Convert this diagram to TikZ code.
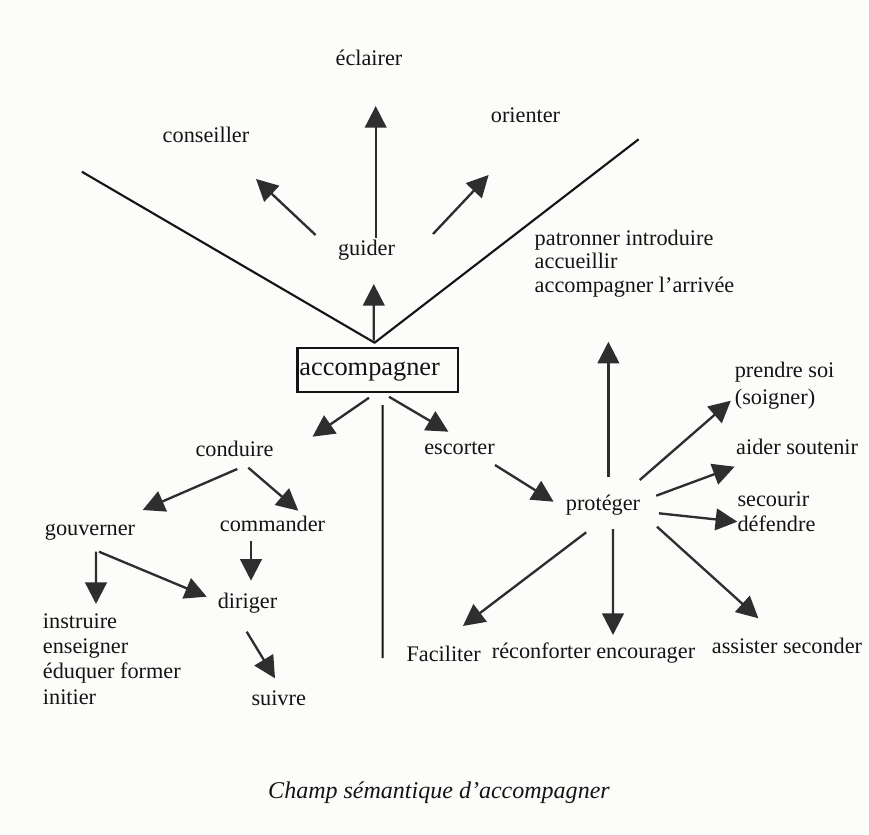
\documentclass[tikz,border=0pt]{standalone}
\usepackage{fontspec}
\setmainfont{Liberation Serif}
\usetikzlibrary{arrows.meta}
\definecolor{ink}{HTML}{141414}
\definecolor{arrowgray}{HTML}{2E2E2E}
\definecolor{paper}{HTML}{FCFCFA}
\begin{document}
\begin{tikzpicture}[x=0.03cm,y=-0.03cm,
  lbl/.style={anchor=base, inner sep=0pt, text=ink, font=\fontsize{19}{21}\selectfont},
  lblw/.style={lbl, anchor=base west},
  arr/.style={draw=arrowgray, line width=2pt, -{Triangle[length=18.5pt,width=18.5pt]}},
  vline/.style={draw=ink, line width=1.8pt, line join=round}]
\fill[paper] (0,0) rectangle (869,834);
\useasboundingbox (0,0) rectangle (869,834);

% labels
\node[lbl] (eclairer) at (369,65) {éclairer};
\node[lbl] (conseiller) at (206,142) {conseiller};
\node[lbl] (orienter) at (525.5,122) {orienter};
\node[lbl] (guider) at (366.5,255) {guider};
\node[lblw] (patron1) at (534.5,245) {patronner introduire};
\node[lblw] (patron2) at (534.5,268) {accueillir};
\node[lblw] (patron3) at (534.5,292) {accompagner l’arrivée};
\node[draw=ink, line width=1.8pt, text=ink, text width=4.695cm, inner xsep=0.06cm,
      text height=15pt, text depth=5pt,
      minimum height=1.32cm, align=left, font=\fontsize{22.5}{24}\selectfont] (acc) at (377.7,370) {accompagner};
\node[lbl] (conduire) at (234.5,456) {conduire};
\node[lbl] (escorter) at (459.5,454) {escorter};
\node[lbl] (gouverner) at (90,535) {gouverner};
\node[lbl] (commander) at (272.5,531.7) {commander};
\node[lbl] (diriger) at (247.5,608.3) {diriger};
\node[lbl] (suivre) at (278.7,705) {suivre};
\node[lblw] (instr1) at (42.7,628.3) {instruire};
\node[lblw] (instr2) at (42.7,653.3) {enseigner};
\node[lblw] (instr3) at (42.7,678.6) {éduquer former};
\node[lblw] (instr4) at (42.7,704.5) {initier};
\node[lbl] (proteger) at (603,510) {protéger};
\node[lblw] (prendre1) at (734.6,377.7) {prendre soi};
\node[lblw] (prendre2) at (734.6,404) {(soigner)};
\node[lblw] (aider) at (736,454) {aider soutenir};
\node[lblw] (secourir) at (737.3,506.7) {secourir};
\node[lblw] (defendre) at (737.3,531.7) {défendre};
\node[lblw] (faciliter) at (406.3,661.7) {Faciliter};
\node[lblw] (reconforter) at (491.6,658) {réconforter encourager};
\node[lblw] (assister) at (711.7,653) {assister seconder};
\node[lbl, font=\itshape\fontsize{20.5}{22}\selectfont] (caption) at (439,798) {Champ sémantique d’accompagner};

% the V
\coordinate (apex) at (374.6,342.7);
\coordinate (vleft) at (81.8,171.7);
\coordinate (vright) at (638.6,139.3);
\draw[vline] (vleft) -- (apex) -- (vright);

% vertical separator
\coordinate (vbot) at (382.6,658);
\draw[vline] ([shift={(4.9,12)}]acc.south) -- (vbot);

% arrows
\draw[arr] ([shift={(-50.9,-20)}]guider.base) -- ([shift={(50,37)}]conseiller.base);
\draw[arr, line width=1.6pt] ([shift={(9.2,-17)}]guider.base) -- ([shift={(6.7,41)}]eclairer.base);
\draw[arr] ([shift={(66.5,-21)}]guider.base) -- ([shift={(-36.9,53)}]orienter.base);
\draw[arr] ([shift={(-3.9,-6.3)}]acc.north) -- ([shift={(7.3,29)}]guider.base);
\draw[arr] ([shift={(-8.7,4.7)}]acc.south) -- ([shift={(78,-19.3)}]conduire.base);
\draw[arr] ([shift={(11.3,3.7)}]acc.south) -- ([shift={(-11.1,-22.3)}]escorter.base);
\draw[arr] ([shift={(2.8,13)}]conduire.base) -- ([shift={(52.7,-25)}]gouverner.base);
\draw[arr] ([shift={(13.8,11.7)}]conduire.base) -- ([shift={(25.8,-21)}]commander.base);
\draw[arr] ([shift={(-21.5,9)}]commander.base) -- ([shift={(3.5,-27.6)}]diriger.base);
\draw[arr] ([shift={(6,16.7)}]gouverner.base) -- ([shift={(53.3,-24.3)}]instr1.base west);
\draw[arr] ([shift={(9,16.7)}]gouverner.base) -- ([shift={(-40.8,-11.6)}]diriger.base);
\draw[arr] ([shift={(-0.8,23.4)}]diriger.base) -- ([shift={(-3.7,-26.7)}]suivre.base);
\draw[arr] ([shift={(35.5,11)}]escorter.base) -- ([shift={(-49.4,-8.3)}]proteger.base);
\draw[arr] ([shift={(5.4,-33.3)}]proteger.base) -- ([shift={(73.9,49.7)}]patron3.base west);
\draw[arr] ([shift={(36.7,-30)}]proteger.base) -- ([shift={(-3.8,-3.3)}]prendre2.base west);
\draw[arr] ([shift={(53.2,-14.3)}]proteger.base) -- ([shift={(-1.4,12.7)}]aider.base west);
\draw[arr] ([shift={(55.9,3.3)}]proteger.base) -- ([shift={(0,-10)}]defendre.base west);
\draw[arr] ([shift={(-16.8,22.3)}]proteger.base) -- ([shift={(56.6,-35.7)}]faciliter.base west);
\draw[arr] ([shift={(10,19)}]proteger.base) -- ([shift={(121.4,-23)}]reconforter.base west);
\draw[arr] ([shift={(54,16.7)}]proteger.base) -- ([shift={(46.7,-34.7)}]assister.base west);
\end{tikzpicture}
\end{document}
